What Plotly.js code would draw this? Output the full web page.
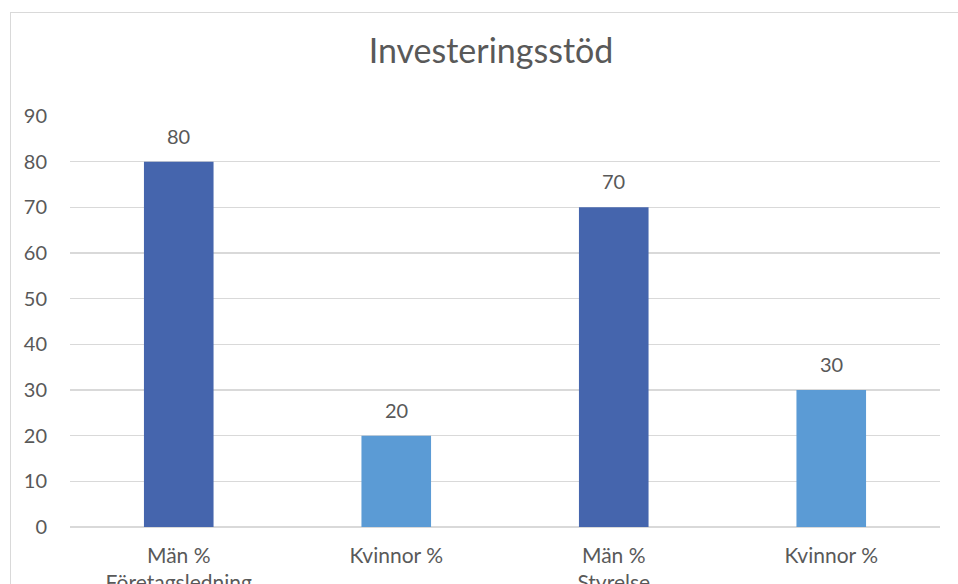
<!DOCTYPE html>
<html>
<head>
<meta charset="utf-8">
<script src="https://cdn.plot.ly/plotly-3.0.1.min.js"></script>
<style>
  html, body { margin: 0; padding: 0; background: #fff; overflow: hidden; }
  #frame {
    position: absolute; left: 10px; top: 12px;
    width: 960px; height: 640px;
    border-left: 1px solid #d9d9d9; border-top: 1px solid #d9d9d9;
  }
  #chart { width: 960px; height: 640px; }
</style>
</head>
<body>
<div id="frame"><div id="chart"></div></div>
<script>
// Data
const categories = ['Män %', 'Kvinnor %', 'Män %', 'Kvinnor %'];
const subLabels = ['Företagsledning', '', 'Styrelse', ''];
const values = [80, 20, 70, 30];
const yTicks = [0, 10, 20, 30, 40, 50, 60, 70, 80, 90];

const colorFor = { 'Män %': '#4565ad', 'Kvinnor %': '#5b9bd5' };
const textColor = '#595959';
const font = 'Lato, "Open Sans", sans-serif';

const xPos = categories.map((_, i) => i);
const tickText = categories.map((c, i) => subLabels[i] ? c + '<br>' + subLabels[i] : c + '<br> ');

const trace = {
    type: 'bar',
    x: xPos,
    y: values,
    marker: { color: categories.map(c => colorFor[c]) },
    hoverinfo: 'y',
};

// value labels above bars
const labels = values.map((v, i) => ({
    x: xPos[i],
    y: v,
    text: String(v),
    showarrow: false,
    yanchor: 'bottom',
    yshift: 12,
    font: { family: font, size: 20, color: textColor },
}));

const layout = {
    width: 960,
    height: 640,
    margin: { l: 59, r: 31, t: 103, b: 126 },
    paper_bgcolor: 'rgba(0,0,0,0)',
    plot_bgcolor: '#fff',
    font: { family: font, color: textColor, size: 20 },
    title: {
        text: 'Investeringsstöd',
        font: { family: font, size: 34, color: textColor },
        x: 0.5, xanchor: 'center',
        y: 1 - 38 / 640, yanchor: 'middle', yref: 'container',
    },
    bargap: 0.68,
    showlegend: false,
    xaxis: {
        range: [-0.5, 3.5],
        tickvals: xPos,
        ticktext: tickText,
        showgrid: false,
        zeroline: false,
        showline: false,
        ticks: '',
        ticklabelstandoff: 14,
        tickfont: { family: font, size: 21, color: textColor },
    },
    yaxis: {
        range: [0, 90],
        tickvals: yTicks,
        gridcolor: '#d9d9d9',
        gridwidth: 1.3,
        zeroline: true,
        zerolinecolor: '#d9d9d9',
        zerolinewidth: 1.3,
        showline: false,
        ticks: '',
        ticklabelstandoff: 22,
        tickfont: { family: font, size: 20, color: textColor },
        fixedrange: true,
    },
    annotations: labels,
};

Plotly.newPlot('chart', [trace], layout, { displayModeBar: false, staticPlot: true });
</script>
</body>
</html>
